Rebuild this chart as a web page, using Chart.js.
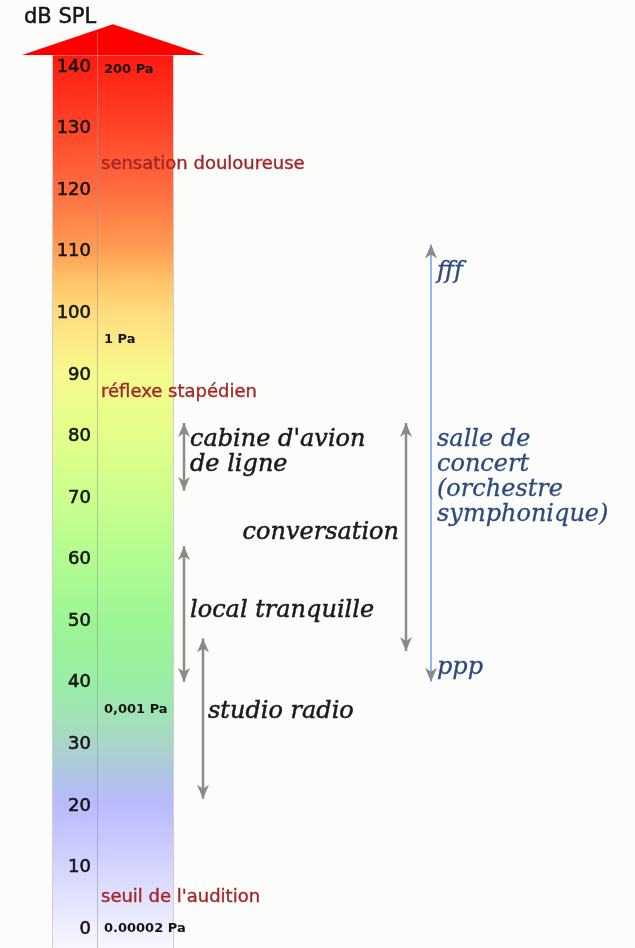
<!DOCTYPE html>
<html>
<head>
<meta charset="utf-8">
<script src="https://cdn.jsdelivr.net/npm/chart.js@4"></script>
<style>
  html, body { margin: 0; padding: 0; background: #fcfcfa; }
  #wrap { width: 635px; height: 948px; }
</style>
</head>
<body>
<div id="wrap"><canvas id="myChart"></canvas></div>
<script>
// dB SPL scale
const dbTicks = [0, 10, 20, 30, 40, 50, 60, 70, 80, 90, 100, 110, 120, 130, 140]

// pressure labels (Pa) and where they sit on the dB scale
const paLabels = ['200 Pa', '1 Pa', '0,001 Pa', '0.00002 Pa']
const paDb = [139.5, 95.8, 35.7, 0]

// physiological thresholds
const thresholdLabels = ['sensation douloureuse', 'réflexe stapédien', "seuil de l'audition"]
const thresholdDb = [124, 87, 5]

// typical environments (ranges in dB)
const rangeNames = ["cabine d'avion de ligne", 'local tranquille', 'studio radio', 'conversation']
const rangeLow = [71, 40, 21, 45]
const rangeHigh = [82, 62, 47, 82]

// concert hall dynamic range
const concertName = 'salle de concert (orchestre symphonique)'
const concertLow = 40
const concertHigh = 111

// colour of the scale arrow along the dB axis
const gradDb = [-4, 0, 10, 20, 25, 30, 35, 40, 50, 60, 70, 80, 90, 100, 105, 110, 120, 130, 140, 147]
const gradColors = ['#f8f8ff', '#efefff', '#d4d4ff', '#babaff', '#b0c4e4', '#a8d6c8', '#a0e4b4', '#98eea4',
  '#9cf694', '#b2fc90', '#ccfe8e', '#e4fe8a', '#f6fa8c', '#ffdc7e', '#ffc468', '#ff9e54',
  '#ff6c40', '#ff4428', '#ff2014', '#ff0000']

// horizontal layout (pixels)
const columns = [184, 184, 203, 406]
const concertColumn = 431
const body = { left: 52, right: 174, divider: 97, headLeft: 22, headRight: 205, tipX: 113 }

const canvas = document.getElementById('myChart')
const serif = 'italic 24px "DejaVu Serif"'

// dir = 1: arrow pointing up (wings below the tip), -1: pointing down
function arrowHead(ctx, x, y, dir, color) {
    ctx.fillStyle = color
    ctx.beginPath()
    ctx.moveTo(x, y)
    ctx.lineTo(x - 6, y + dir * 14)
    ctx.lineTo(x, y + dir * 10)
    ctx.lineTo(x + 6, y + dir * 14)
    ctx.closePath()
    ctx.fill()
}

// text with a hairline stroke so it reads as heavy as the reference
function heavyText(ctx, t, x, y, w) {
    ctx.lineWidth = w
    ctx.strokeStyle = ctx.fillStyle
    ctx.fillText(t, x, y)
    ctx.strokeText(t, x, y)
}

const scalePlugin = {
    id: 'scaleArrow',
    beforeDatasetsDraw(chart) {
        const ctx = chart.ctx
        const y = chart.scales.y
        const top = y.getPixelForValue(141.8)
        const tip = y.getPixelForValue(146.8)
        const bottom = y.getPixelForValue(-3.25)

        const grad = ctx.createLinearGradient(0, y.getPixelForValue(gradDb[0]), 0, y.getPixelForValue(gradDb[gradDb.length - 1]))
        const span = gradDb[gradDb.length - 1] - gradDb[0]
        gradDb.forEach((d, i) => grad.addColorStop((d - gradDb[0]) / span, gradColors[i]))

        ctx.save()
        ctx.fillStyle = grad
        ctx.fillRect(body.left, top, body.right - body.left, bottom - top)
        ctx.strokeStyle = '#cfcfcf'
        ctx.lineWidth = 1
        ctx.strokeRect(body.left + 0.5, top, body.right - body.left - 1, bottom - top + 2)

        // head
        ctx.fillStyle = '#ff0000'
        ctx.beginPath()
        ctx.moveTo(body.headLeft, top)
        ctx.lineTo(body.tipX, tip)
        ctx.lineTo(body.headRight, top)
        ctx.closePath()
        ctx.fill()

        // divider
        ctx.strokeStyle = 'rgba(150,150,150,0.55)'
        ctx.beginPath()
        ctx.moveTo(body.divider + 0.5, y.getPixelForValue(145.5))
        ctx.lineTo(body.divider + 0.5, bottom + 2)
        ctx.stroke()

        // dB ticks
        ctx.fillStyle = '#151515'
        ctx.font = '18px "DejaVu Sans"'
        ctx.textAlign = 'right'
        ctx.textBaseline = 'middle'
        dbTicks.forEach(v => heavyText(ctx, String(v), 91, y.getPixelForValue(v) + 1, 0.6))

        ctx.font = 'bold 13px "DejaVu Sans"'
        ctx.textAlign = 'left'
        paLabels.forEach((t, i) => ctx.fillText(t, 104, y.getPixelForValue(paDb[i]) + 1))

        ctx.fillStyle = '#a3282a'
        ctx.font = '18px "DejaVu Sans"'
        thresholdLabels.forEach((t, i) => heavyText(ctx, t, 101, y.getPixelForValue(thresholdDb[i]), 0.4))

        ctx.fillStyle = '#151515'
        ctx.font = '21px "DejaVu Sans"'
        heavyText(ctx, 'dB SPL', 24, 18, 0.5)
        ctx.restore()
    },
    afterDatasetsDraw(chart) {
        const ctx = chart.ctx
        const y = chart.scales.y
        ctx.save()
        chart.data.datasets.forEach((ds, i) => {
            const pts = chart.getDatasetMeta(i).data
            arrowHead(ctx, pts[0].x, pts[0].y, 1, ds.headColor)
            arrowHead(ctx, pts[1].x, pts[1].y, -1, ds.headColor)
        })

        ctx.textBaseline = 'middle'
        ctx.font = serif
        ctx.fillStyle = '#1a1a1a'
        ctx.textAlign = 'left'
        heavyText(ctx, "cabine d'avion", 190, y.getPixelForValue(79.3), 0.5)
        heavyText(ctx, 'de ligne', 190, y.getPixelForValue(75.2), 0.5)
        heavyText(ctx, 'local tranquille', 190, y.getPixelForValue(51.5), 0.5)
        heavyText(ctx, 'studio radio', 208, y.getPixelForValue(35.1), 0.5)
        ctx.textAlign = 'right'
        heavyText(ctx, 'conversation', 399, y.getPixelForValue(64.2), 0.5)

        ctx.fillStyle = '#2c4a7e'
        ctx.textAlign = 'left'
        heavyText(ctx, 'fff', 437, y.getPixelForValue(106.5), 0.3)
        heavyText(ctx, 'ppp', 437, y.getPixelForValue(42.2), 0.3)
        const lines = ['salle de', 'concert', '(orchestre', 'symphonique)']
        const ys = [79.3, 75.2, 71.1, 67.1]
        lines.forEach((t, i) => heavyText(ctx, t, 437, y.getPixelForValue(ys[i]), 0.3))
        ctx.restore()
    }
}

const datasets = rangeNames.map((name, i) => ({
    label: name,
    data: [{ x: columns[i], y: rangeHigh[i] }, { x: columns[i], y: rangeLow[i] }],
    borderColor: '#8a8a8a',
    borderWidth: 2.5,
    pointRadius: 0,
    headColor: '#8a8a8a'
}))
datasets.push({
    label: concertName,
    data: [{ x: concertColumn, y: concertHigh }, { x: concertColumn, y: concertLow }],
    borderColor: '#90b8ee',
    borderWidth: 2,
    pointRadius: 0,
    headColor: '#8a8a8a'
})

const config = {
    type: 'line',
    data: { datasets },
    options: {
        responsive: true,
        maintainAspectRatio: false,
        animation: false,
        events: [],
        layout: { padding: 0 },
        plugins: { legend: { display: false }, tooltip: { enabled: false } },
        scales: {
            x: { type: 'linear', display: false, min: 0, max: 635 },
            y: { type: 'linear', display: false, min: -3.25, max: 150.72 }
        }
    },
    plugins: [scalePlugin]
}

const myChart = new Chart(canvas, config)
</script>
</body>
</html>
